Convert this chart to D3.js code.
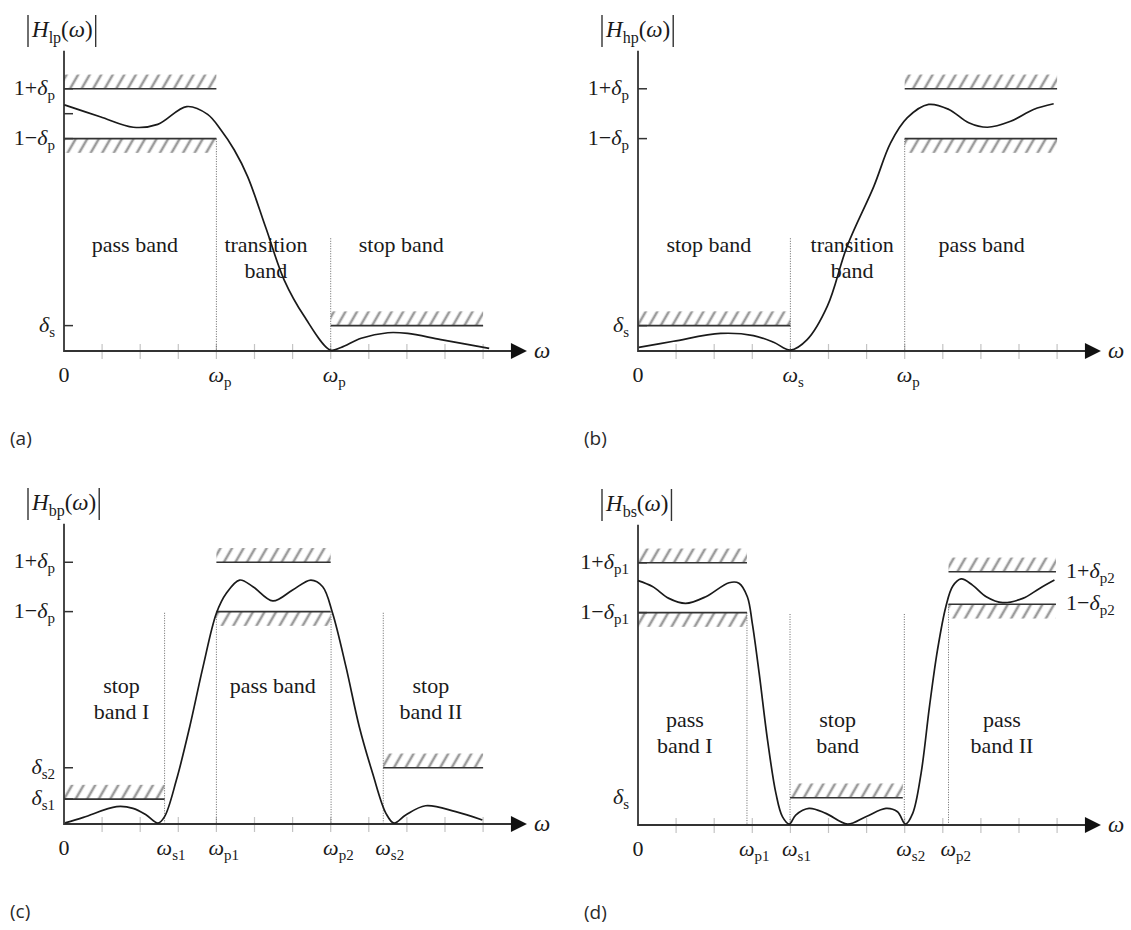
<!DOCTYPE html>
<html>
<head>
<meta charset="utf-8">
<script src="https://cdn.jsdelivr.net/npm/d3@7"></script>
<style>
  body { margin: 0; background: #fff; }
  svg { display: block; }
</style>
</head>
<body>
<div id="chart"></div>
<script>
// magnitude responses: [omega (tick units), |H|]
const curveLP = [[0.01,1.037],[0.95,0.987],[1.82,0.943],[2.46,0.955],[3.22,1.030],[3.77,0.997],[4.12,0.931],[4.47,0.847],[4.82,0.735],[5.30,0.518],[5.78,0.299],[6.31,0.145],[6.99,0.004],[7.27,0.015],[7.80,0.054],[8.50,0.077],[9.02,0.074],[9.89,0.048],[11.16,0.011]];
const curveHP = [[0.02,0.015],[0.93,0.041],[2.17,0.074],[3.03,0.065],[3.56,0.037],[4.0,0.004],[4.44,0.048],[4.97,0.189],[5.49,0.442],[6.19,0.694],[6.63,0.877],[7.07,0.983],[7.63,1.039],[8.16,1.018],[8.68,0.962],[9.17,0.943],[9.78,0.968],[10.38,1.018],[10.91,1.042]];
const curveBP = [[0.03,0.005],[0.51,0.028],[1.38,0.073],[1.81,0.066],[2.16,0.038],[2.47,0.004],[2.64,0.031],[2.95,0.185],[3.30,0.410],[3.65,0.663],[4.00,0.888],[4.26,0.972],[4.61,1.028],[4.96,1.000],[5.48,0.940],[6.00,0.986],[6.48,1.028],[6.79,1.000],[7.05,0.888],[7.40,0.663],[7.75,0.410],[8.10,0.214],[8.45,0.045],[8.66,0.004],[8.97,0.038],[9.49,0.077],[10.28,0.052],[10.98,0.017]];
const curveBS = [[0,1.030],[0.38,1.005],[0.81,0.955],[1.25,0.934],[1.78,0.962],[2.39,1.021],[2.65,1.019],[2.87,0.962],[3.00,0.850],[3.18,0.640],[3.40,0.358],[3.62,0.133],[3.79,0.035],[3.97,0.004],[4.14,0.042],[4.49,0.070],[4.93,0.049],[5.50,0.004],[5.98,0.035],[6.51,0.070],[6.81,0.056],[7.02,0.004],[7.21,0.049],[7.43,0.218],[7.65,0.499],[7.86,0.737],[8.08,0.920],[8.26,1.006],[8.48,1.037],[8.78,1.011],[9.14,0.962],[9.57,0.937],[10.10,0.955],[10.54,0.997],[10.93,1.032]];

// tolerance levels: [prefix, subscript, level]  (delta is drawn after the prefix)
const yLabelsLP = [["1+","p",1.105],["1−","p",0.895],["","s",0.107]];
const yLabelsHP = [["1+","p",1.105],["1−","p",0.895],["","s",0.107]];
const yLabelsBP = [["1+","p",1.103],["1−","p",0.895],["","s2",0.237],["","s1",0.105]];
const yLabelsBS = [["1+","p1",1.105],["1−","p1",0.895],["","s",0.115]];
const rightLabelsBS = [["1+","p2",1.067],["1−","p2",0.930]];

// small ticks on the |H| axis
const yTicksLP = [1.105, 1.0, 0.895, 0.107];
const yTicksHP = [1.105, 0.895, 0.107];
const yTicksBP = [1.103, 0.895, 0.237, 0.105];
const yTicksBS = [1.105, 0.895];

// hatched tolerance bands: [from, to, level, side (+1 above / -1 below)]
const hatchLP = [[0,4,1.105,1],[0,4,0.895,-1],[7,11,0.107,1]];
const hatchHP = [[0,4,0.107,1],[7,11,1.105,1],[7,11,0.895,-1]];
const hatchBP = [[0,2.64,0.105,1],[4,7,1.103,1],[4,7,0.895,-1],[8.38,11,0.237,1]];
const hatchBS = [[0,2.86,1.105,1],[0,2.86,0.895,-1],[3.99,6.95,0.115,1],[8.15,10.97,1.067,1],[8.15,10.97,0.930,-1]];

// band edges: [omega, top of dotted line, subscript]
const edgesLP = [[4,0.895,"p"],[7,0.475,"p"]];
const edgesHP = [[4,0.475,"s"],[7,0.895,"p"]];
const edgesBP = [[2.64,0.89,"s1"],[4,0.895,"p1"],[7.01,0.895,"p2"],[8.38,0.89,"s2"]];
const edgesBS = [[2.86,0.895,"p1"],[3.99,0.889,"s1"],[6.99,0.889,"s2"],[8.15,0.93,"p2"]];

// band names: [centre omega, lines]
const regionsLP = [[1.86,["pass band"]],[5.3,["transition","band"]],[8.85,["stop band"]]];
const regionsHP = [[1.86,["stop band"]],[5.62,["transition","band"]],[9.02,["pass band"]]];
const regionsBP = [[1.51,["stop","band I"]],[5.48,["pass band"]],[9.63,["stop","band II"]]];
const regionsBS = [[1.23,["pass","band I"]],[5.24,["stop","band"]],[9.55,["pass","band II"]]];

const xTicks = [1,2,3,4,5,6,7,8,9,10,11];

const width = 1131, height = 930;
const unitX = 38.1, unitY = 237.3;
const serif = "'Liberation Serif', 'Times New Roman', serif";

const svg = d3.select("#chart").append("svg")
  .attr("width", width)
  .attr("height", height)
  .style("background", "#fff");

svg.append("defs").append("pattern")
  .attr("id", "hatch")
  .attr("patternUnits", "userSpaceOnUse")
  .attr("width", 10)
  .attr("height", 10)
  .attr("patternTransform", "rotate(30)")
  .append("line")
  .attr("x1", 5).attr("y1", -2).attr("x2", 5).attr("y2", 12)
  .attr("stroke", "#9c9c9c")
  .attr("stroke-width", 2.6);

const panels = [
  { letter: "(a)", x0: 64, axisY: 351, sub: "lp", curve: curveLP, yLabels: yLabelsLP, yTicks: yTicksLP,
    hatch: hatchLP, edges: edgesLP, regions: regionsLP, regionLevel: 0.417, right: [] },
  { letter: "(b)", x0: 638, axisY: 351, sub: "hp", curve: curveHP, yLabels: yLabelsHP, yTicks: yTicksHP,
    hatch: hatchHP, edges: edgesHP, regions: regionsHP, regionLevel: 0.417, right: [] },
  { letter: "(c)", x0: 64, axisY: 824, sub: "bp", curve: curveBP, yLabels: yLabelsBP, yTicks: yTicksBP,
    hatch: hatchBP, edges: edgesBP, regions: regionsBP, regionLevel: 0.552, right: [] },
  { letter: "(d)", x0: 638, axisY: 825, sub: "bs", curve: curveBS, yLabels: yLabelsBS, yTicks: yTicksBS,
    hatch: hatchBS, edges: edgesBS, regions: regionsBS, regionLevel: 0.414, right: rightLabelsBS }
];

const newText = (g, x, y, anchor) => g.append("text")
  .attr("x", x).attr("y", y)
  .attr("text-anchor", anchor)
  .attr("font-family", serif)
  .attr("font-size", 22)
  .attr("fill", "#1a1a1a");

// greek letter (italic) with a subscript, optionally preceded by upright text
const greekSub = (g, x, y, pre, greek, sub, anchor) => {
  const t = newText(g, x, y, anchor);
  if (pre) t.append("tspan").text(pre);
  t.append("tspan").attr("font-style", "italic").text(greek);
  t.append("tspan").attr("dy", 5).attr("font-size", 15).text(sub);
  return t;
};

const xMax = 12.15, yMax = 1.265;

panels.forEach(p => {
  const x = d3.scaleLinear().domain([0, xMax]).range([p.x0, p.x0 + xMax * unitX]);
  const y = d3.scaleLinear().domain([0, yMax]).range([p.axisY, p.axisY - yMax * unitY]);
  const g = svg.append("g");

  // hatched tolerance bands
  p.hatch.forEach(([a, b, lv, side]) => {
    const yA = y(lv), yB = y(lv + side * 0.06);
    g.append("rect")
      .attr("x", x(a)).attr("width", x(b) - x(a))
      .attr("y", Math.min(yA, yB)).attr("height", Math.abs(yA - yB))
      .attr("fill", "url(#hatch)");
  });

  // x ticks (light)
  g.selectAll(".xt").data(xTicks).join("line")
    .attr("x1", d => x(d)).attr("x2", d => x(d))
    .attr("y1", p.axisY - 7).attr("y2", p.axisY + 8)
    .attr("stroke", "#c4c4c4").attr("stroke-width", 1.2);

  // dotted band edges
  p.edges.forEach(([w, top, s]) => {
    g.append("line")
      .attr("x1", x(w)).attr("x2", x(w))
      .attr("y1", y(top)).attr("y2", p.axisY)
      .attr("stroke", "#666").attr("stroke-width", 1)
      .attr("stroke-dasharray", "1,1.5");
    greekSub(g, x(w) - 8, p.axisY + 31, "", "ω", s, "start");
  });

  // tolerance lines
  p.hatch.forEach(([a, b, lv]) => {
    g.append("line")
      .attr("x1", x(a)).attr("x2", x(b))
      .attr("y1", y(lv)).attr("y2", y(lv))
      .attr("stroke", "#333").attr("stroke-width", 1.6);
  });

  // axes
  g.append("line")
    .attr("x1", x(0)).attr("x2", x(0))
    .attr("y1", p.axisY + 1).attr("y2", y(yMax))
    .attr("stroke", "#333").attr("stroke-width", 1.8);
  g.append("line")
    .attr("x1", x(0)).attr("x2", x(xMax) - 12)
    .attr("y1", p.axisY).attr("y2", p.axisY)
    .attr("stroke", "#333").attr("stroke-width", 1.8);
  g.append("path")
    .attr("d", `M${x(xMax)},${p.axisY} L${x(xMax) - 16},${p.axisY - 8} L${x(xMax) - 16},${p.axisY + 8} Z`)
    .attr("fill", "#111");
  newText(g, x(xMax) + 7, p.axisY + 7, "start")
    .attr("font-size", 23)
    .attr("font-style", "italic")
    .text("ω");

  // y ticks and labels
  g.selectAll(".yt").data(p.yTicks).join("line")
    .attr("x1", x(0)).attr("x2", x(0) + 9)
    .attr("y1", d => y(d)).attr("y2", d => y(d))
    .attr("stroke", "#333").attr("stroke-width", 1.5);
  p.yLabels.forEach(([pre, s, lv]) => greekSub(g, x(0) - 9, y(lv) + 6, pre, "δ", s, "end"));
  p.right.forEach(([pre, s, lv]) => greekSub(g, x(11) + 9, y(lv) + 6, pre, "δ", s, "start"));

  newText(g, x(0), p.axisY + 31, "middle").text("0");

  // response curve
  g.append("path")
    .datum(p.curve)
    .attr("d", d3.line().x(d => x(d[0])).y(d => Math.min(y(d[1]), p.axisY)).curve(d3.curveCatmullRom.alpha(0.5)))
    .attr("fill", "none")
    .attr("stroke", "#1a1a1a")
    .attr("stroke-width", 1.7);

  // band names
  p.regions.forEach(([w, lines]) => {
    const t = newText(g, 0, 0, "middle");
    lines.forEach((ln, i) => t.append("tspan").attr("x", x(w)).attr("y", y(p.regionLevel) + i * 26).text(ln));
  });

  // title |H(ω)|
  const ty = p.axisY - 314;
  const title = newText(g, x(0) - 32, ty, "start").attr("font-size", 23);
  title.append("tspan").attr("font-style", "italic").text("H");
  title.append("tspan").attr("dy", 6).attr("font-size", 16).text(p.sub);
  title.append("tspan").attr("dy", -6).text("(");
  title.append("tspan").attr("font-style", "italic").text("ω");
  title.append("tspan").text(")");
  const bb = title.node().getBBox();
  [x(0) - 36, bb.x + bb.width + 3].forEach(bx => {
    g.append("line")
      .attr("x1", bx).attr("x2", bx)
      .attr("y1", ty - 22).attr("y2", ty + 10)
      .attr("stroke", "#333").attr("stroke-width", 1.4);
  });

  // panel letter
  g.append("text")
    .attr("x", x(0) - 54).attr("y", p.axisY + 94)
    .attr("font-family", "'Open Sans', 'Noto Sans', sans-serif")
    .attr("font-size", 19).attr("fill", "#2a2a2a")
    .text(p.letter);
});
</script>
</body>
</html>
